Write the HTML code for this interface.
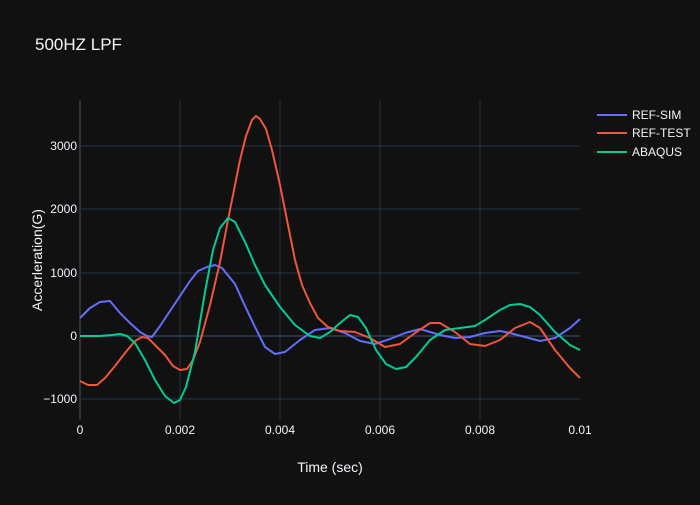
<!DOCTYPE html>
<html><head><style>
body{margin:0;background:#111111;}
svg text{font-family:"Liberation Sans",sans-serif;fill:#f2f5fa;}
</style></head><body>
<svg width="700" height="500" xmlns="http://www.w3.org/2000/svg">
<rect width="700" height="500" fill="#111111"/>
<text x="35" y="50" font-size="17">500HZ LPF</text>
<g stroke="#283442" stroke-width="1">
<line x1="180" y1="100" x2="180" y2="420"/>
<line x1="280" y1="100" x2="280" y2="420"/>
<line x1="380" y1="100" x2="380" y2="420"/>
<line x1="480" y1="100" x2="480" y2="420"/>
<line x1="80" y1="146" x2="580" y2="146"/>
<line x1="80" y1="209" x2="580" y2="209"/>
<line x1="80" y1="273" x2="580" y2="273"/>
<line x1="80" y1="399" x2="580" y2="399"/>
</g>
<line x1="80" y1="336" x2="580" y2="336" stroke="#283442" stroke-width="2"/>
<line x1="80" y1="100" x2="80" y2="420" stroke="#283442" stroke-width="2"/>
<g font-size="12" text-anchor="end">
<text x="77" y="150">3000</text><text x="77" y="213">2000</text><text x="77" y="277">1000</text>
<text x="77" y="340">0</text><text x="77" y="403">−1000</text>
</g>
<g font-size="12" text-anchor="middle">
<text x="80" y="434">0</text><text x="180" y="434">0.002</text><text x="280" y="434">0.004</text>
<text x="380" y="434">0.006</text><text x="480" y="434">0.008</text><text x="580" y="434">0.01</text>
</g>
<text x="330" y="472" font-size="14" text-anchor="middle">Time (sec)</text>
<text transform="translate(42,260) rotate(-90)" font-size="14" text-anchor="middle">Accerleration(G)</text>
<g fill="none" stroke-width="2" stroke-linejoin="round">
<polyline stroke="#636efa" points="80,318 90,308 100,302 110,301 120,313 130,323 140,332 147,336 152,337 160,326 170,311 180,296 190,281 198,271 207,267 215,265 222,268 235,284 245,306 255,327 265,347 275,354 285,352 300,340 315,330 330,328 345,333 360,341 375,344 390,339 405,333 420,329 430,332 440,335 455,338 470,337 485,333 500,331 510,333 525,337 540,341 555,338 570,328 580,319"/>
<polyline stroke="#EF553B" points="80,381 88,385 97,385 105,378 115,366 125,353 135,341 142,337 148,338 155,345 165,355 173,366 180,370 187,369 193,360 200,342 210,305 220,262 228,220 235,185 240,160 246,136 252,120 256,116 260,119 266,129 272,150 280,185 288,225 295,260 302,285 310,303 318,318 328,327 340,331 355,332 370,338 385,347 400,344 415,333 430,323 440,323 455,332 470,344 485,346 500,340 515,328 530,322 540,328 555,350 570,368 580,378"/>
<polyline stroke="#00cc96" points="80,336 100,336 112,335 120,334 127,336 135,343 145,360 155,380 165,396 174,403 180,400 186,387 195,352 205,292 213,250 220,228 228,218 235,222 245,242 255,265 265,285 280,307 295,325 310,336 320,338 330,332 340,323 350,315 358,317 366,328 376,350 386,364 396,369 406,367 416,357 430,340 445,330 460,328 475,326 485,320 500,310 510,305 520,304 530,307 540,315 555,332 570,345 580,350"/>
</g>
<g font-size="12">
<line x1="597" y1="115" x2="627" y2="115" stroke="#636efa" stroke-width="2"/><text x="632" y="119">REF-SIM</text>
<line x1="597" y1="133" x2="627" y2="133" stroke="#EF553B" stroke-width="2"/><text x="632" y="137">REF-TEST</text>
<line x1="597" y1="152" x2="627" y2="152" stroke="#00cc96" stroke-width="2"/><text x="632" y="156">ABAQUS</text>
</g>
</svg>
</body></html>
